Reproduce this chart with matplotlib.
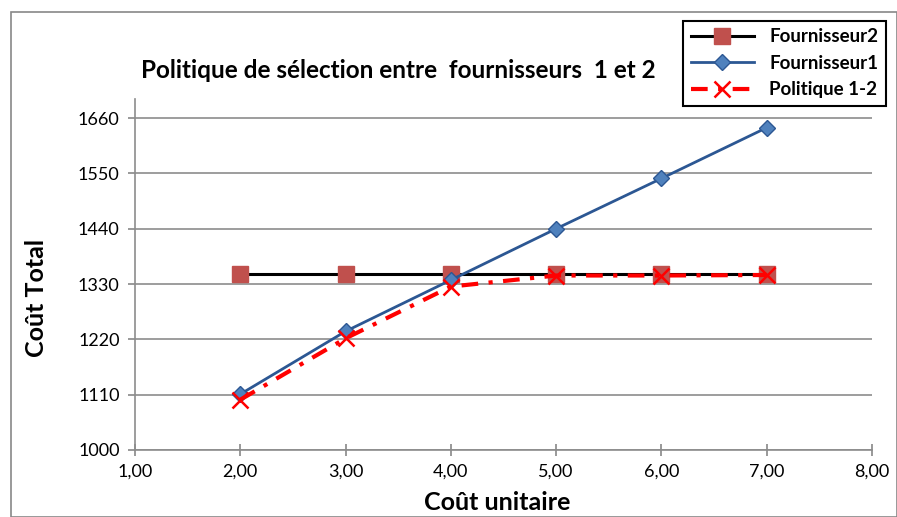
import matplotlib.pyplot as plt
from matplotlib.patches import Rectangle

# data
cout_unitaire = [2, 3, 4, 5, 6, 7]
fournisseur2 = [1350, 1350, 1350, 1350, 1350, 1350]
fournisseur1 = [1111, 1236, 1338, 1440, 1540, 1641]
politique_12 = [1100, 1222, 1325, 1347, 1347, 1348]

y_ticks = [1000, 1110, 1220, 1330, 1440, 1550, 1660]
x_ticks = [1, 2, 3, 4, 5, 6, 7, 8]
x_labels = ["1,00", "2,00", "3,00", "4,00", "5,00", "6,00", "7,00", "8,00"]

plt.rcParams['font.family'] = ['Lato', 'DejaVu Sans']

fig = plt.figure(figsize=(8.97, 5.17), dpi=100)
W, H = 897, 517
ax = fig.add_axes([135 / W, 1 - 450 / H, (872 - 135) / W, (450 - 99) / H])

# outer chart border
fig.patches.append(Rectangle((11 / W, 0), (W - 11) / W, 1 - 12 / H,
                             transform=fig.transFigure, fill=False,
                             edgecolor="#888888", linewidth=1.2))

ax.plot(cout_unitaire, fournisseur2, color="black", linewidth=2.2,
        marker="s", markersize=11, markerfacecolor="#C0504D",
        markeredgecolor="#C0504D", label="Fournisseur2", zorder=3)
ax.plot(cout_unitaire, fournisseur1, color="#2C5793", linewidth=2,
        marker="D", markersize=8, markerfacecolor="#4F81BD",
        markeredgecolor="#2C5793", label="Fournisseur1", zorder=4)
ax.plot(cout_unitaire, politique_12, color="red", linewidth=3,
        linestyle=(0, (4, 2.5, 1, 2.5)), marker="x", markersize=11,
        markeredgewidth=1.8, label="Politique 1-2", zorder=5)

ax.set_xlim(1, 8)
ax.set_ylim(1000, 1698)
ax.set_xticks(x_ticks)
ax.set_xticklabels(x_labels)
ax.set_yticks(y_ticks)
ax.tick_params(labelsize=13, color="#888888", length=5, width=1.2, pad=6)
ax.tick_params(axis="x", direction="inout", length=8)
ax.grid(axis="y", color="#8C8C8C", linewidth=1.2)
ax.set_axisbelow(True)
for side in ["top", "right"]:
    ax.spines[side].set_visible(False)
for side in ["left", "bottom"]:
    ax.spines[side].set_color("#8C8C8C")
    ax.spines[side].set_linewidth(1.2)

fig.text(497 / W, 1 - 502 / H, "Coût unitaire", ha="center", va="center",
         fontsize=18, fontweight="bold")
fig.text(37 / W, 1 - 298 / H, "Coût Total", ha="center", va="center",
         rotation=90, fontsize=18, fontweight="bold")
fig.text(398 / W, 1 - 70 / H, "Politique de sélection entre  fournisseurs  1 et 2",
         ha="center", va="center", fontsize=17.5, fontweight="bold")

leg = ax.legend(loc="upper left", bbox_to_anchor=(683 / W, 1 - 21 / H),
                bbox_transform=fig.transFigure, frameon=True, fancybox=False,
                edgecolor="black", framealpha=1, borderpad=0.4,
                borderaxespad=0, labelspacing=0.5, handlelength=3.4,
                prop={"size": 13.5, "weight": "bold"})
leg.get_frame().set_linewidth(1.5)

fig.savefig("out.png", dpi=100)
